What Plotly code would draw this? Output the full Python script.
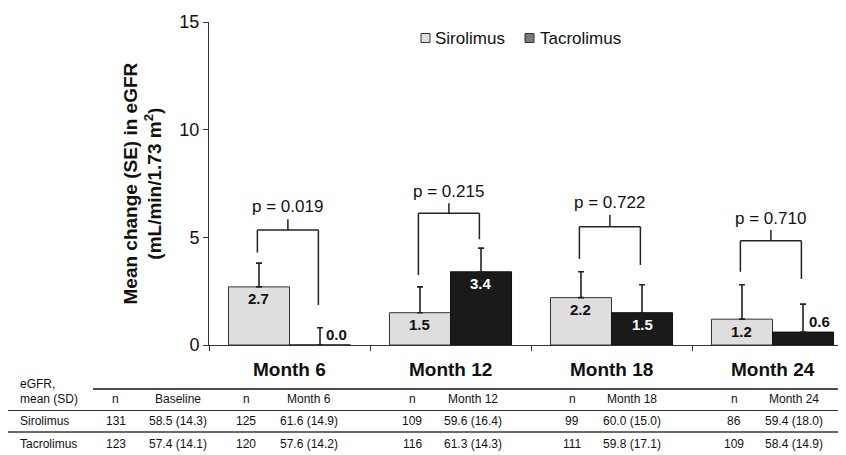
import plotly.graph_objects as go

# ---------------- data ----------------
months = ["Month 6", "Month 12", "Month 18", "Month 24"]
siro_mean = [2.7, 1.5, 2.2, 1.2]
tacro_mean = [0.0, 3.4, 1.5, 0.6]
siro_se = [1.1, 1.2, 1.2, 1.6]
tacro_se = [0.8, 1.1, 1.3, 1.3]
siro_labels = ["2.7", "1.5", "2.2", "1.2"]
tacro_labels = ["0.0", "3.4", "1.5", "0.6"]

p_values = ["p = 0.019", "p = 0.215", "p = 0.722", "p = 0.710"]
bracket_left = [4.29, 3.25, 4.0, 3.4]
bracket_right = [1.86, 4.91, 3.72, 3.07]
bracket_top = [5.34, 6.12, 5.49, 4.84]
bracket_stem = [5.84, 6.58, 6.04, 5.34]
p_label_y = [6.42, 7.12, 6.6, 5.88]

y_ticks = [0, 5, 10, 15]

table_header = ["n", "Baseline", "n", "Month 6", "n", "Month 12", "n", "Month 18", "n", "Month 24"]
siro_row = ["131", "58.5 (14.3)", "125", "61.6 (14.9)", "109", "59.6 (16.4)", "99", "60.0 (15.0)", "86", "59.4 (18.0)"]
tacro_row = ["123", "57.4 (14.1)", "120", "57.6 (14.2)", "116", "61.3 (14.3)", "111", "59.8 (17.1)", "109", "58.4 (14.9)"]
row_names = ["Sirolimus", "Tacrolimus"]

# ---------------- layout constants ----------------
OFF = 8                      # page margin of the browser
W, H = 846 - OFF, 455 - OFF
PLOT_L, PLOT_T, PLOT_B = 209, 22, 345   # plot area in window pixels
L, T = PLOT_L - OFF, PLOT_T - OFF
PW = 846 - PLOT_L
PH = PLOT_B - PLOT_T
B = H - T - PH
R = W - L - PW
FONT = "Liberation Sans, Arial, sans-serif"
TXT = "#111111"
BARGAP = 0.242
CAT_W = 161.0
HALF = (1 - BARGAP) / 4  # offset of each bar centre from category centre


def px_x(px):
    return (px - PLOT_L) / PW


def px_y(py):
    return (PLOT_B - py) / PH


fig = go.Figure()
fig.add_trace(go.Bar(
    x=months, y=siro_mean, name="Sirolimus", showlegend=False,
    marker=dict(color="#dedede", line=dict(color="#333333", width=1)),
    error_y=dict(type="data", array=siro_se, arrayminus=[0] * len(siro_se),
                 symmetric=False, color="#222222", thickness=1.6, width=3),
))
fig.add_trace(go.Bar(
    x=months, y=tacro_mean, name="Tacrolimus", showlegend=False,
    marker=dict(color="#1a1a1a", line=dict(color="#111111", width=1)),
    error_y=dict(type="data", array=tacro_se, arrayminus=[0] * len(tacro_se),
                 symmetric=False, color="#222222", thickness=1.6, width=3),
))

shapes = []
annotations = []

# bar value labels
for i in range(len(months)):
    annotations.append(dict(x=i - HALF, y=siro_mean[i], xref="x", yref="y",
                            text="<b>%s</b>" % siro_labels[i], showarrow=False,
                            yshift=-12, font=dict(family=FONT, size=15, color=TXT)))
    if tacro_mean[i] >= 1.0:
        annotations.append(dict(x=i + HALF, y=tacro_mean[i], xref="x", yref="y",
                                text="<b>%s</b>" % tacro_labels[i], showarrow=False,
                                yshift=-12, font=dict(family=FONT, size=15, color="white")))
    else:
        annotations.append(dict(x=i + HALF, y=tacro_mean[i], xref="x", yref="y",
                                text="<b>%s</b>" % tacro_labels[i], showarrow=False,
                                xshift=16, yshift=11, font=dict(family=FONT, size=15, color=TXT)))

# significance brackets
lc = dict(color="#222222", width=1.5)
for i in range(len(months)):
    xl, xr = i - HALF - 0.01, i + HALF - 0.01
    xm = (xl + xr) / 2
    shapes.append(dict(type="line", xref="x", yref="y", x0=xl, x1=xl,
                       y0=bracket_left[i], y1=bracket_top[i], line=lc))
    shapes.append(dict(type="line", xref="x", yref="y", x0=xr, x1=xr,
                       y0=bracket_right[i], y1=bracket_top[i], line=lc))
    shapes.append(dict(type="line", xref="x", yref="y", x0=xl, x1=xr,
                       y0=bracket_top[i], y1=bracket_top[i], line=lc))
    shapes.append(dict(type="line", xref="x", yref="y", x0=xm, x1=xm,
                       y0=bracket_top[i], y1=bracket_stem[i], line=lc))
    annotations.append(dict(x=xm, y=p_label_y[i], xref="x", yref="y", text=p_values[i],
                            showarrow=False, yanchor="middle",
                            font=dict(family=FONT, size=17, color=TXT)))

# category labels under the axis
for i, m in enumerate(months):
    annotations.append(dict(x=i, y=px_y(369), xref="x", yref="paper", text="<b>%s</b>" % m,
                            showarrow=False, yanchor="middle",
                            font=dict(family=FONT, size=19, color=TXT)))

# y-axis title
annotations.append(dict(x=px_x(142), y=0.5, xref="paper", yref="paper",
                        text="<b>Mean change (SE) in eGFR<br>(mL/min/1.73 m<sup>2</sup>)</b>",
                        textangle=-90, showarrow=False, xanchor="center", yanchor="middle",
                        font=dict(family=FONT, size=19, color=TXT)))

# legend (manual)
leg = [("Sirolimus", "#dedede", 421, 433), ("Tacrolimus", "#7a7a7a", 525, 538)]
for name, col, sx, tx in leg:
    shapes.append(dict(type="rect", xref="paper", yref="paper",
                       x0=px_x(sx), x1=px_x(sx + 9), y0=px_y(42.5), y1=px_y(33.5),
                       fillcolor=col, line=dict(color="#333333", width=1)))
    annotations.append(dict(x=px_x(tx), y=px_y(38), xref="paper", yref="paper", text=name,
                            showarrow=False, xanchor="left", yanchor="middle",
                            font=dict(family=FONT, size=17, color=TXT)))

# table below
col_x = [116, 178, 246, 309, 412, 473, 572, 632, 734, 794]
tfont = dict(family=FONT, size=12, color=TXT)
annotations.append(dict(x=px_x(18), y=px_y(384), xref="paper", yref="paper", text="eGFR,",
                        showarrow=False, xanchor="left", yanchor="middle", font=tfont))
annotations.append(dict(x=px_x(18), y=px_y(399), xref="paper", yref="paper", text="mean (SD)",
                        showarrow=False, xanchor="left", yanchor="middle", font=tfont))
for cx, h in zip(col_x, table_header):
    annotations.append(dict(x=px_x(cx), y=px_y(399), xref="paper", yref="paper", text=h,
                            showarrow=False, xanchor="center", yanchor="middle", font=tfont))
for ry, name, row in [(421, row_names[0], siro_row), (444, row_names[1], tacro_row)]:
    annotations.append(dict(x=px_x(18), y=px_y(ry), xref="paper", yref="paper", text=name,
                            showarrow=False, xanchor="left", yanchor="middle", font=tfont))
    for cx, v in zip(col_x, row):
        annotations.append(dict(x=px_x(cx), y=px_y(ry), xref="paper", yref="paper", text=v,
                                showarrow=False, xanchor="center", yanchor="middle", font=tfont))

shapes.append(dict(type="line", xref="paper", yref="paper", x0=px_x(93), x1=px_x(838),
                   y0=px_y(389), y1=px_y(389), line=dict(color="#111111", width=1.5)))
shapes.append(dict(type="line", xref="paper", yref="paper", x0=px_x(0), x1=px_x(846),
                   y0=px_y(410.5), y1=px_y(410.5), line=dict(color="#333333", width=1)))
shapes.append(dict(type="line", xref="paper", yref="paper", x0=px_x(0), x1=px_x(846),
                   y0=px_y(432), y1=px_y(432), line=dict(color="#6a6a6a", width=2)))

fig.update_layout(
    width=W, height=H,
    margin=dict(l=L, r=R, t=T, b=B, pad=0),
    paper_bgcolor="white", plot_bgcolor="white",
    barmode="group", bargap=BARGAP, bargroupgap=0,
    showlegend=False,
    font=dict(family=FONT, color=TXT),
    xaxis=dict(type="category", range=[-0.5, -0.5 + PW / CAT_W], showline=True,
               linecolor="#333333", linewidth=1, ticks="outside", tickson="boundaries",
               ticklen=5, tickcolor="#333333", showticklabels=False, showgrid=False,
               zeroline=False, fixedrange=True),
    yaxis=dict(range=[0, 15], tickvals=y_ticks, ticks="outside", ticklen=5,
               tickcolor="#333333", showline=True, linecolor="#333333", linewidth=1,
               showgrid=False, zeroline=False, tickfont=dict(family=FONT, size=18, color=TXT),
               fixedrange=True),
    shapes=shapes,
    annotations=annotations,
)

fig.write_html("out.html")
